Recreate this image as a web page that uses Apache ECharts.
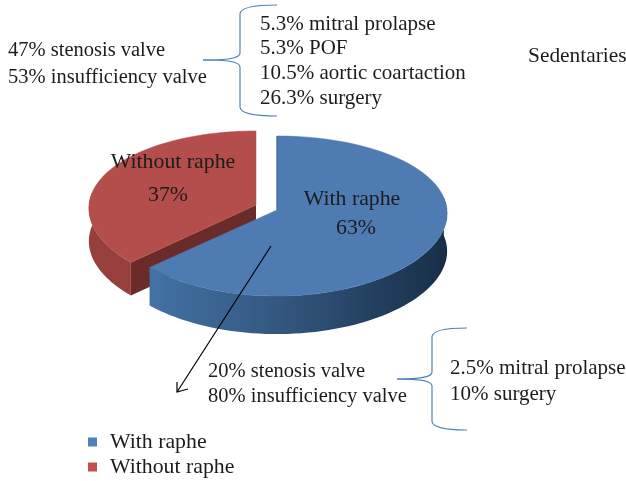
<!DOCTYPE html>
<html><head><meta charset="utf-8">
<style>html,body{margin:0;padding:0;background:#fff}#c{width:626px;height:481px}</style>
<script src="https://cdn.jsdelivr.net/npm/echarts@6/dist/echarts.min.js"></script>
</head><body><div id="c"></div>
<script>
const categories = ['With raphe', 'Without raphe'];
const sliceValues = [63, 37];
const sliceLabels = ['63%', '37%'];
const withoutRapheNotes = ['47% stenosis valve', '53% insufficiency valve'];
const withoutRapheFindings = ['5.3% mitral prolapse', '5.3% POF', '10.5% aortic coartaction', '26.3% surgery'];
const withRapheNotes = ['20% stenosis valve', '80% insufficiency valve'];
const withRapheFindings = ['2.5% mitral prolapse', '10% surgery'];
const chartTitle = 'Sedentaries';

const FONT = '"Liberation Serif"', INK = '#1c1c1c', BRACE = '#4f81bd';
const total = sliceValues.reduce((a, b) => a + b, 0);
const shapes = [
  {cx: 277, cy: 210, rx: 170, a: 79.6, depth: 38, top: '#4e7bb1',
   wall: '#3a6291',
   side: {type:'linear',x:0,y:0,x2:1,y2:0,colorStops:[{offset:0,color:'#4272a4'},{offset:.45,color:'#33567e'},{offset:1,color:'#172e47'}]}},
  {cx: 256, cy: 205, rx: 167, a: 79.6, depth: 33, top: '#b34e4c',
   wall: '#6b2b2a', side: '#973f3d'}
];
function pt(s, t) {
  const u = Math.sin(t), v = Math.cos(t);
  return [s.cx + s.rx * u / (1 + 0.04 * v), s.cy - s.a * v / (1 + 0.075 * v)];
}
function arc(s, t0, t1) {
  const n = 64, out = [];
  for (let i = 0; i <= n; i++) out.push(pt(s, t0 + (t1 - t0) * i / n));
  return out;
}
function sliceRender(index, startShare, share) {
  return function () {
    const s = shapes[index], TAU = Math.PI * 2;
    const t0 = startShare / total * TAU, t1 = (startShare + share) / total * TAU;
    const top = arc(s, t0, t1);
    const c = [s.cx, s.cy];
    const down = p => [p[0], p[1] + s.depth];
    const children = [];
    const sideFrom = index === 0 ? Math.PI * 0.45 : t0, sideTo = index === 0 ? t1 : Math.PI * 1.55;
    const rim = arc(s, sideFrom, sideTo);
    const sidePoly = rim.concat(rim.slice().reverse().map(down));
    if (index === 1) {
      const e = pt(s, t0);
      children.push({type:'polygon', shape:{points:[c, e, down(e), down(c)]}, style:{fill:s.wall}});
    }
    children.push({type:'polygon', shape:{points:sidePoly}, style:{fill:s.side}});
    children.push({type:'polygon', shape:{points:[c].concat(top)}, style:{fill:s.top, stroke:s.top, lineWidth:0.5}});
    if (index === 0) {
      const e = pt(s, t0);
      children.push({type:'line', shape:{x1:c[0], y1:c[1], x2:e[0], y2:e[1]}, style:{stroke:s.wall, lineWidth:1}});
    }
    return {type:'group', children};
  };
}
const series = categories.map((name, i) => ({
  name, type:'custom', coordinateSystem:'none', silent:true, clip:false,
  z: i === 0 ? 3 : 2,
  color: i === 0 ? '#4f81bd' : '#c0504d',
  data:[sliceValues[i]],
  renderItem: sliceRender(i, i === 0 ? 0 : sliceValues[0], sliceValues[i])
}));
function txt(text, x, y, size, align) {
  return {type:'text', z:10, style:{text, x, y, fill:INK, font:size+'px '+FONT, align:align||'left', verticalAlign:'middle'}};
}
function curve(x1, y1, a, b, c, d, x2, y2) {
  return {type:'bezierCurve', z:5, shape:{x1, y1, cpx1:a, cpy1:b, cpx2:c, cpy2:d, x2, y2}, style:{fill:'none', stroke:BRACE, lineWidth:1.2}};
}
function seg(x1, y1, x2, y2) {
  return {type:'line', z:5, shape:{x1, y1, x2, y2}, style:{stroke:BRACE, lineWidth:1.2}};
}
function brace(xr, xm, xt, y0, ym, y1) {
  return [
    curve(xr, y0, xr-18, y0, xm, y0+2, xm, y0+9), seg(xm, y0+9, xm, ym-7),
    curve(xm, ym-7, xm, ym-1, xm-15, ym, xt, ym), curve(xt, ym, xm-15, ym, xm, ym+1, xm, ym+7),
    seg(xm, ym+7, xm, y1-9), curve(xm, y1-9, xm, y1-2, xr-18, y1, xr, y1)
  ];
}
const elements = [
  ...brace(277, 240, 203, 5, 60, 116),
  ...brace(467, 432, 397, 328, 379, 430),
  {type:'polyline', z:6, shape:{points:[[271,246],[177,392]]}, style:{fill:'none', stroke:'#000', lineWidth:1.2}},
  {type:'polyline', z:6, shape:{points:[[177,382],[177,392],[188,389]]}, style:{fill:'none', stroke:'#000', lineWidth:1.2}},
  txt(chartTitle, 528, 56, 21.4),
  txt(categories[0], 352, 199, 21.8, 'center'), txt(sliceLabels[0], 356, 228, 21.8, 'center'),
  txt(categories[1], 173, 162, 21.8, 'center'), txt(sliceLabels[1], 168, 195, 21.8, 'center')
];
withoutRapheNotes.forEach((t, i) => elements.push(txt(t, 8, 51 + i * 27, 20.5)));
withoutRapheFindings.forEach((t, i) => elements.push(txt(t, 260, 24 + i * 24.7, 21)));
withRapheNotes.forEach((t, i) => elements.push(txt(t, 208, 372 + i * 25, 20.5)));
withRapheFindings.forEach((t, i) => elements.push(txt(t, 450, 368 + i * 26, 21)));

const chart = echarts.init(document.getElementById('c'), null, {renderer:'canvas'});
chart.setOption({
  animation:false,
  backgroundColor:'#fff',
  legend:{
    data:categories, orient:'vertical', left:88, bottom:3, padding:0, itemWidth:9, itemHeight:9, itemGap:3,
    icon:'rect', selectedMode:false,
    textStyle:{fontFamily:FONT, fontSize:21.8, color:INK, padding:[0,0,0,8]}
  },
  series,
  graphic:{elements}
});
</script></body></html>
